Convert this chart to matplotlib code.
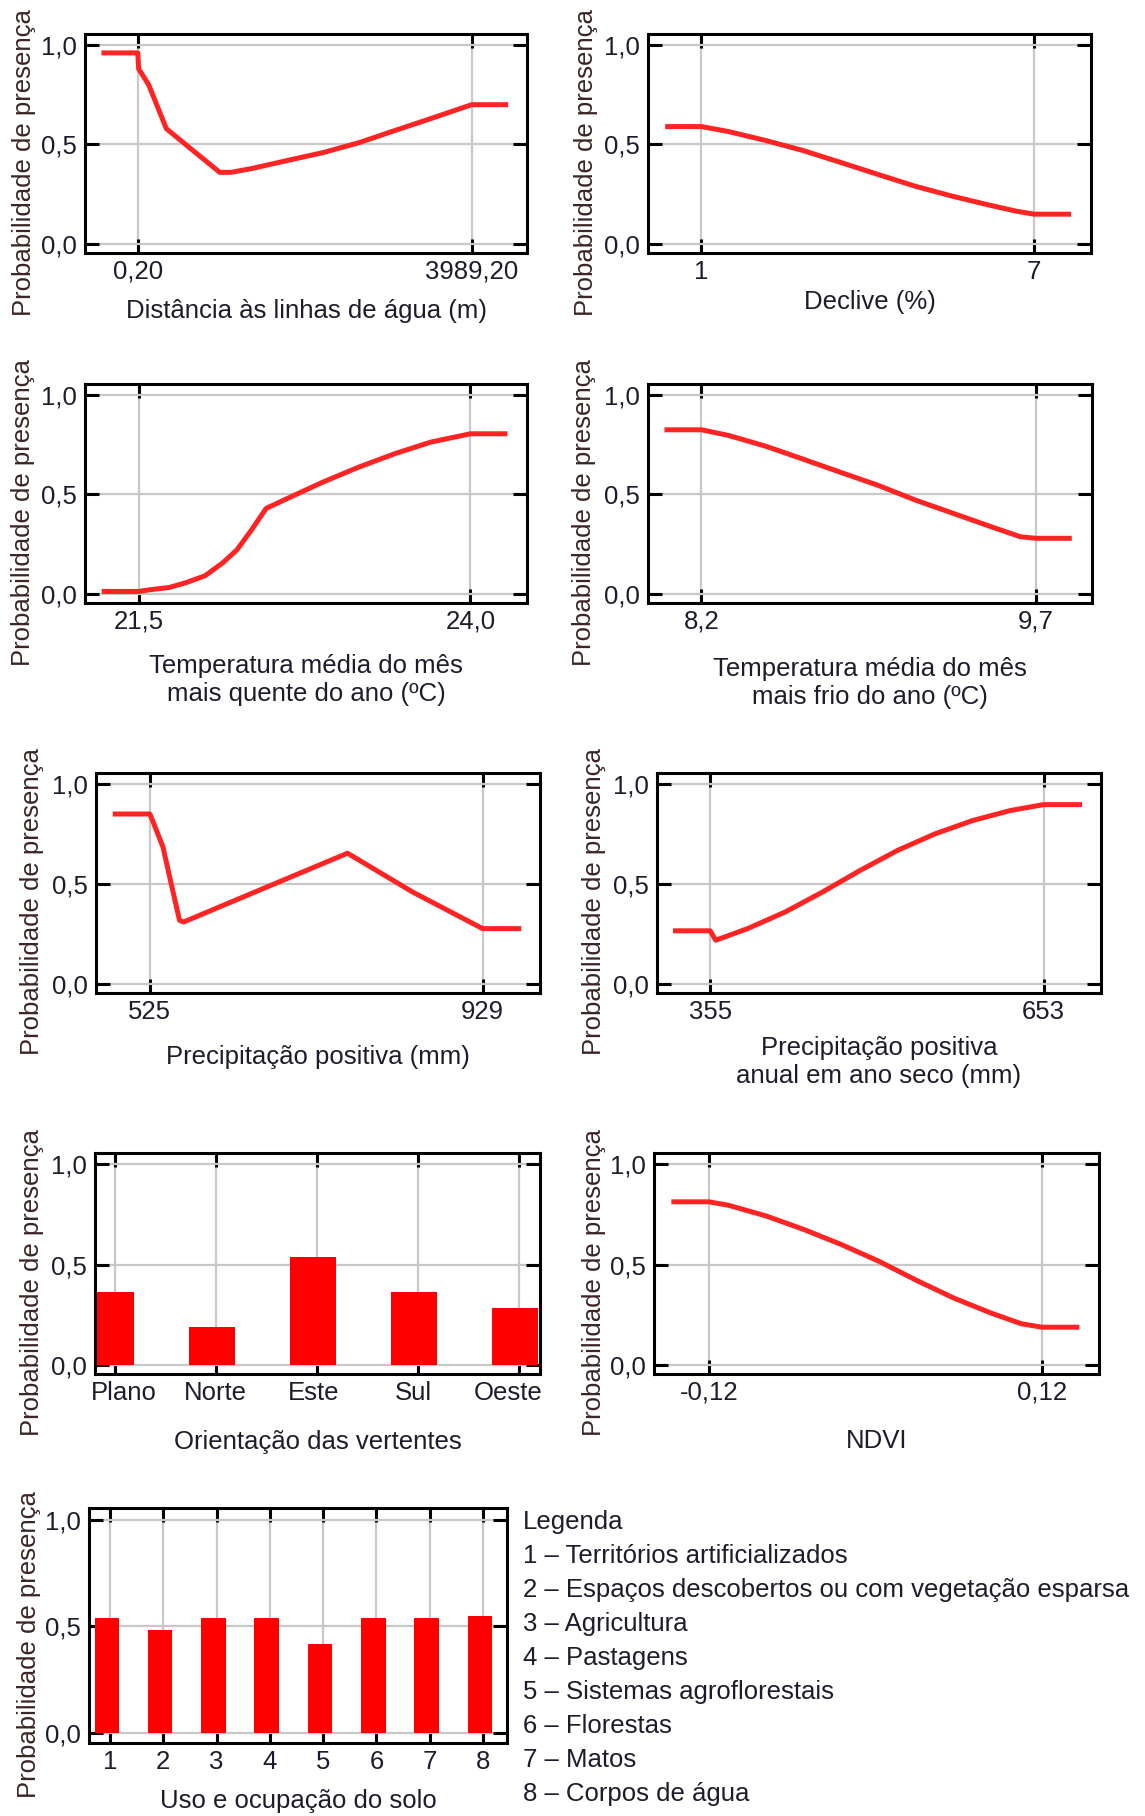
import matplotlib
matplotlib.use("Agg")
import matplotlib.pyplot as plt
from matplotlib.transforms import ScaledTranslation

plt.rcParams['font.family'] = ['Liberation Sans', 'DejaVu Sans']

# ==============================
# DATA
# ==============================
dist_x = [-405, 0.2, 10, 130, 340, 600, 980, 1110, 1370, 1790, 2220, 2650, 3070, 3500, 3989.2, 4395]
dist_y = [0.96, 0.96, 0.88, 0.80, 0.58, 0.49, 0.36, 0.36, 0.38, 0.42, 0.46, 0.51, 0.57, 0.63, 0.70, 0.70]

decl_x = [0.39, 1, 1.49, 2.16, 2.83, 3.51, 4.18, 4.86, 5.53, 6.2, 6.68, 7, 7.62]
decl_y = [0.59, 0.59, 0.565, 0.52, 0.47, 0.41, 0.35, 0.29, 0.24, 0.195, 0.165, 0.15, 0.15]

tq_x = [21.24, 21.5, 21.59, 21.73, 21.86, 22.0, 22.13, 22.24, 22.35, 22.46, 22.62, 22.89, 23.16, 23.43, 23.70, 24.0, 24.26]
tq_y = [0.013, 0.013, 0.022, 0.033, 0.058, 0.092, 0.155, 0.222, 0.322, 0.43, 0.48, 0.563, 0.638, 0.705, 0.763, 0.805, 0.805]

tf_x = [8.045, 8.2, 8.32, 8.49, 8.65, 8.82, 8.99, 9.16, 9.33, 9.50, 9.63, 9.7, 9.85]
tf_y = [0.825, 0.825, 0.797, 0.742, 0.68, 0.613, 0.547, 0.472, 0.405, 0.338, 0.288, 0.28, 0.28]

prec_x = [483, 525, 530, 541, 550, 561, 566, 648, 765, 844, 929, 973]
prec_y = [0.85, 0.85, 0.80, 0.684, 0.518, 0.319, 0.31, 0.452, 0.654, 0.46, 0.277, 0.277]

seco_x = [324, 355, 360, 388.5, 422, 455.4, 489, 522.4, 556, 589.4, 622.9, 653, 685]
seco_y = [0.266, 0.266, 0.219, 0.277, 0.36, 0.46, 0.568, 0.668, 0.751, 0.817, 0.867, 0.897, 0.897]

ndvi_x = [-0.1452, -0.12, -0.1059, -0.0789, -0.0518, -0.0247, 0.0023, 0.0294, 0.0565, 0.0835, 0.1052, 0.12, 0.1452]
ndvi_y = [0.812, 0.812, 0.795, 0.742, 0.675, 0.60, 0.517, 0.422, 0.333, 0.258, 0.205, 0.188, 0.188]

orient_cat = ['Plano', 'Norte', 'Este', 'Sul', 'Oeste']
orient_val = [0.362, 0.188, 0.538, 0.362, 0.283]

uso_cat = [1, 2, 3, 4, 5, 6, 7, 8]
uso_val = [0.54, 0.485, 0.54, 0.54, 0.42, 0.54, 0.54, 0.55]
uso_legend = [
    'Legenda',
    '1 – Territórios artificializados',
    '2 – Espaços descobertos ou com vegetação esparsa',
    '3 – Agricultura',
    '4 – Pastagens',
    '5 – Sistemas agroflorestais',
    '6 – Florestas',
    '7 – Matos',
    '8 – Corpos de água',
]

# ==============================
# STYLE / LAYOUT HELPERS
# ==============================
W, H = 1145, 1816
FS = 18.5
TXT = '#1c1c2c'
YLC = '#3a2424'
RED_LINE = '#ff2424'
RED_BAR = '#ff0000'
YLAB = 'Probabilidade de presença'

fig = plt.figure(figsize=(W / 100, H / 100), dpi=100)


def add_box(l, t, r, b):
    return fig.add_axes([l / W, 1 - b / H, (r - l) / W, (b - t) / H])


def style(ax, box, xticks, xlabels, xlabel, xlab_off, ylab_x, ylim=(-0.045, 1.055)):
    l, t, r, b = box
    ax.set_ylim(*ylim)
    ax.set_yticks([0, 0.5, 1.0])
    ax.set_yticklabels(['0,0', '0,5', '1,0'])
    ax.set_xticks(xticks)
    ax.set_xticklabels(xlabels)
    ax.tick_params(direction='in', length=10, width=2.2, top=True, right=True,
                   labelsize=FS, labelcolor=TXT, color='black')
    ax.tick_params(axis='y', pad=6)
    ax.tick_params(axis='x', pad=5)
    ax.grid(True, color='#c8c8c8', lw=1.6)
    ax.set_axisbelow(True)
    for s in ax.spines.values():
        s.set_linewidth(2.2)
    ax.text(0.5, -xlab_off / (b - t), xlabel, transform=ax.transAxes,
            ha='center', va='top', fontsize=FS, color=TXT, linespacing=1.2)
    fig.text(ylab_x / W, 1 - ((t + b) / 2 + 19) / H, YLAB, rotation=90,
             ha='center', va='center', fontsize=FS, color=YLC)


def line_panel(box, x, y, xlim, xticks, xlabels, xlabel, xlab_off, ylab_x):
    ax = add_box(*box)
    ax.plot(x, y, color=RED_LINE, lw=3.6, solid_joinstyle='round')
    ax.set_xlim(*xlim)
    style(ax, box, xticks, xlabels, xlabel, xlab_off, ylab_x)
    return ax


# ==============================
# LINE PANELS
# ==============================
line_panel((85, 34, 527, 253), dist_x, dist_y, (-631, 4650), [0.2, 3989.2],
           ['0,20', '3989,20'], 'Distância às linhas de água (m)', 46, 24)

line_panel((648, 34, 1091, 253), decl_x, decl_y, (0.036, 8.025), [1, 7],
           ['1', '7'], 'Declive (%)', 37, 586)

line_panel((85, 384, 527, 603), tq_x, tq_y, (21.095, 24.426), [21.5, 24.0],
           ['21,5', '24,0'], 'Temperatura média do mês\nmais quente do ano (ºC)', 51, 23)

line_panel((648, 384, 1092, 603), tf_x, tf_y, (7.96, 9.952), [8.2, 9.7],
           ['8,2', '9,7'], 'Temperatura média do mês\nmais frio do ano (ºC)', 54, 584)

line_panel((96, 773, 540, 993), prec_x, prec_y, (459.6, 998.7), [525, 929],
           ['525', '929'], 'Precipitação positiva (mm)', 52, 32)

line_panel((657, 773, 1101, 993), seco_x, seco_y, (307.5, 704.2), [355, 653],
           ['355', '653'], 'Precipitação positiva\nanual em ano seco (mm)', 43, 594)

line_panel((654, 1153, 1099, 1374), ndvi_x, ndvi_y, (-0.1595, 0.1611), [-0.12, 0.12],
           ['-0,12', '0,12'], 'NDVI', 55, 594)

# ==============================
# BAR PANELS
# ==============================
box = (95, 1153, 540, 1374)
ax = add_box(*box)
pos = list(range(len(orient_cat)))
ax.bar([p - 0.04 for p in pos], orient_val, width=0.46, color=RED_BAR)
ax.set_xlim(-0.198, 4.208)
style(ax, box, pos, orient_cat, 'Orientação das vertentes', 56, 32)
# category labels sit slightly inside the frame, as in the original
label_shift = [9, -1, -3, -5, -11]
for lab, dx in zip(ax.get_xticklabels(), label_shift):
    lab.set_transform(lab.get_transform() + ScaledTranslation(dx / 100, 0, fig.dpi_scale_trans))

box = (89, 1508, 507, 1743)
ax = add_box(*box)
ax.bar([c - 0.06 for c in uso_cat], uso_val, width=0.46, color=RED_BAR)
ax.set_xlim(0.606, 8.45)
style(ax, box, uso_cat, [str(c) for c in uso_cat], 'Uso e ocupação do solo', 46, 29,
      ylim=(-0.047, 1.056))

for i, txt in enumerate(uso_legend):
    fig.text(523 / W, 1 - (1522 + 34 * i) / H, txt, ha='left', va='center',
             fontsize=FS, color=TXT)

fig.savefig('out.png', dpi=100, facecolor='white')
